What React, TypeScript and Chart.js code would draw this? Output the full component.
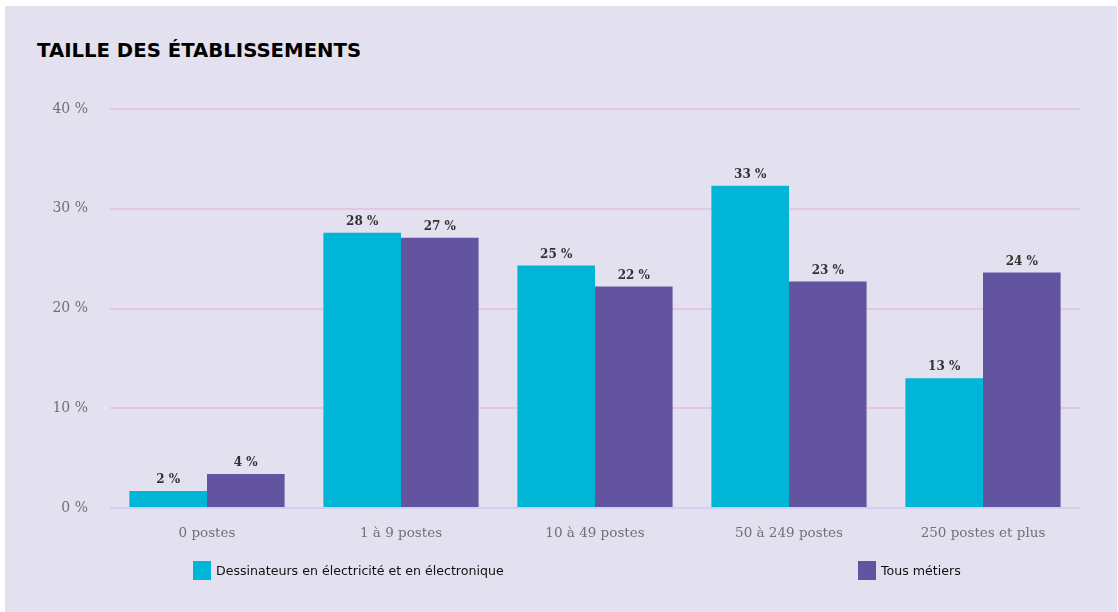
import React, { useEffect, useRef } from "react";
import { Chart, registerables } from "chart.js";

Chart.register(...registerables);

const categories = ["0 postes", "1 à 9 postes", "10 à 49 postes", "50 à 249 postes", "250 postes et plus"];
const seriesNames = ["Dessinateurs en électricité et en électronique", "Tous métiers"];
const dessinateurs = [1.7, 27.6, 24.3, 32.3, 13.0];
const tousMetiers = [3.4, 27.1, 22.2, 22.7, 23.6];
const dessinateursLabels = ["2 %", "28 %", "25 %", "33 %", "13 %"];
const tousMetiersLabels = ["4 %", "27 %", "22 %", "23 %", "24 %"];
const yTicks = [0, 10, 20, 30, 40];

const CYAN = "#00b5d6";
const PURPLE = "#62549e";
const BG = "#e3e1f0";

const valueLabelPlugin = {
  id: "valueLabels",
  afterDatasetsDraw(chart: any) {
    const ctx = chart.ctx;
    const allLabels = [dessinateursLabels, tousMetiersLabels];
    ctx.save();
    ctx.font = "bold 12px 'DejaVu Serif'";
    ctx.fillStyle = "#333333";
    ctx.textAlign = "center";
    ctx.textBaseline = "bottom";
    chart.data.datasets.forEach((_ds: any, di: number) => {
      const meta = chart.getDatasetMeta(di);
      meta.data.forEach((bar: any, i: number) => {
        ctx.fillText(allLabels[di][i], bar.x, bar.y - 5);
      });
    });
    ctx.restore();
  },
};

export default function App() {
  const canvasRef = useRef<HTMLCanvasElement | null>(null);

  useEffect(() => {
    if (!canvasRef.current) return;
    const chart = new Chart(canvasRef.current, {
      type: "bar",
      data: {
        labels: categories,
        datasets: [
          { label: seriesNames[0], data: dessinateurs, backgroundColor: CYAN, borderWidth: 0 },
          { label: seriesNames[1], data: tousMetiers, backgroundColor: PURPLE, borderWidth: 0 },
        ],
      },
      options: {
        animation: false,
        responsive: false,
        maintainAspectRatio: false,
        layout: { padding: { left: 20, right: 37, top: 103, bottom: 64 } },
        plugins: {
          legend: { display: false },
          tooltip: { enabled: false },
          title: { display: false },
        },
        datasets: { bar: { categoryPercentage: 0.8, barPercentage: 1 } } as any,
        scales: {
          x: {
            grid: { display: false, drawTicks: false },
            border: { display: false },
            ticks: {
              color: "#707070",
              font: { family: "'DejaVu Serif'", size: 13.5 },
              padding: 17,
              maxRotation: 0,
            },
            afterFit: (s: any) => {
              s.height = 40;
            },
          },
          y: {
            min: 0,
            max: 40,
            afterBuildTicks: (s: any) => {
              s.ticks = yTicks.map((v) => ({ value: v }));
            },
            grid: {
              drawTicks: false,
              lineWidth: 2,
              color: (c: any) => (c.tick && c.tick.value === 0 ? "#cdd0ee" : "#e2c6e2"),
            },
            border: { display: false },
            ticks: {
              color: "#707070",
              font: { family: "'DejaVu Serif'", size: 14 },
              padding: 22,
              callback: (v: any) => `${v} %`,
            },
            afterFit: (s: any) => {
              s.width = 85;
            },
          },
        },
      },
      plugins: [valueLabelPlugin],
    });
    return () => chart.destroy();
  }, []);

  const legendText: React.CSSProperties = {
    fontFamily: "'DejaVu Sans'",
    fontSize: "12.6px",
    color: "#111",
    whiteSpace: "nowrap",
  };

  return (
    <div style={{ position: "absolute", left: 0, top: 0, width: 1118, height: 612, background: "#ffffff", overflow: "hidden" }}>
      <div style={{ position: "absolute", left: 5, top: 6, width: 1112, height: 606, background: BG }}>
        <div
          style={{
            position: "absolute",
            left: 32,
            top: 35,
            fontFamily: "'DejaVu Sans'",
            fontWeight: "bold",
            fontSize: "19.7px",
            lineHeight: "19.7px",
            color: "#000",
            whiteSpace: "nowrap",
          }}
        >
          TAILLE DES ÉTABLISSEMENTS
        </div>
        <canvas ref={canvasRef} width={1112} height={606} style={{ position: "absolute", left: 0, top: 0, width: 1112, height: 606 }} />
        <div style={{ position: "absolute", left: 188, top: 555, height: 19, display: "flex", alignItems: "center" }}>
          <div style={{ width: 18, height: 19, background: CYAN, marginRight: 5 }} />
          <span style={legendText}>{seriesNames[0]}</span>
        </div>
        <div style={{ position: "absolute", left: 853, top: 555, height: 19, display: "flex", alignItems: "center" }}>
          <div style={{ width: 18, height: 19, background: PURPLE, marginRight: 5 }} />
          <span style={legendText}>{seriesNames[1]}</span>
        </div>
      </div>
    </div>
  );
}
